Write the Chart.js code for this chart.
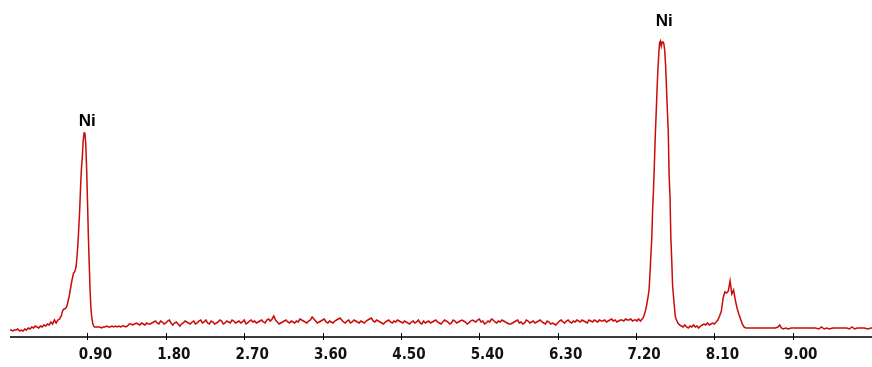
<!DOCTYPE html>
<html>
<head>
<meta charset="utf-8">
<script src="https://cdn.jsdelivr.net/npm/chart.js@4.4.1/dist/chart.umd.min.js"></script>
<style>
html,body{margin:0;padding:0;background:#fff;}
#wrap{width:872px;height:367px;position:relative;}
</style>
</head>
<body>
<div id="wrap"><canvas id="c" width="872" height="367"></canvas></div>
<script>
// Energy (keV) of each sampled channel
const energyKeV = [
0.00,0.02,0.04,0.06,0.08,0.10,0.12,0.14,0.16,0.18,0.20,0.22,0.24,0.26,0.28,0.30,0.32,0.34,0.36,0.38,0.40,0.42,0.44,0.46,0.48,0.50,0.52,0.54,0.56,
0.58,0.59,0.60,0.61,0.62,0.63,0.64,0.65,0.66,0.67,0.68,0.69,0.70,0.71,0.72,0.73,0.74,0.75,0.76,0.77,0.78,0.79,0.80,0.81,0.82,0.83,0.84,0.85,0.86,0.87,0.88,0.89,0.90,0.91,0.92,0.93,0.94,0.95,0.96,0.97,0.98,0.99,1.00,
1.02,1.04,1.06,1.08,1.10,1.12,1.14,1.16,1.18,1.20,1.22,1.24,1.26,1.28,1.30,1.32,1.34,1.36,1.38,1.40,1.42,1.44,1.46,1.48,1.50,1.52,1.54,1.56,1.58,1.60,
1.62,1.64,1.66,1.68,1.70,1.72,1.74,1.76,1.78,1.80,
1.82,1.84,1.86,1.88,1.90,1.92,1.94,1.96,1.98,2.00,
2.02,2.04,2.06,2.08,2.10,2.12,2.14,2.16,2.18,2.20,
2.22,2.24,2.26,2.28,2.30,2.32,2.34,2.36,2.38,2.40,
2.42,2.44,2.46,2.48,2.50,2.52,2.54,2.56,2.58,2.60,
2.62,2.64,2.66,2.68,2.70,2.72,2.74,2.76,2.78,2.80,
2.82,2.84,2.86,2.88,2.90,2.92,2.94,2.96,2.98,3.00,
3.02,3.04,3.06,3.08,3.10,3.12,3.14,3.16,3.18,3.20,
3.22,3.24,3.26,3.28,3.30,3.32,3.34,3.36,3.38,3.40,
3.42,3.44,3.46,3.48,3.50,3.52,3.54,3.56,3.58,3.60,
3.62,3.64,3.66,3.68,3.70,3.72,3.74,3.76,3.78,3.80,
3.82,3.84,3.86,3.88,3.90,3.92,3.94,3.96,3.98,4.00,
4.02,4.04,4.06,4.08,4.10,4.12,4.14,4.16,4.18,4.20,
4.22,4.24,4.26,4.28,4.30,4.32,4.34,4.36,4.38,4.40,
4.42,4.44,4.46,4.48,4.50,4.52,4.54,4.56,4.58,4.60,
4.62,4.64,4.66,4.68,4.70,4.72,4.74,4.76,4.78,4.80,
4.82,4.84,4.86,4.88,4.90,4.92,4.94,4.96,4.98,5.00,
5.02,5.04,5.06,5.08,5.10,5.12,5.14,5.16,5.18,5.20,
5.22,5.24,5.26,5.28,5.30,5.32,5.34,5.36,5.38,5.40,
5.42,5.44,5.46,5.48,5.50,5.52,5.54,5.56,5.58,5.60,
5.62,5.64,5.66,5.68,5.70,5.72,5.74,5.76,5.78,5.80,
5.82,5.84,5.86,5.88,5.90,5.92,5.94,5.96,5.98,6.00,
6.02,6.04,6.06,6.08,6.10,6.12,6.14,6.16,6.18,6.20,
6.22,6.24,6.26,6.28,6.30,6.32,6.34,6.36,6.38,6.40,
6.42,6.44,6.46,6.48,6.50,6.52,6.54,6.56,6.58,6.60,
6.62,6.64,6.66,6.68,6.70,6.72,6.74,6.76,6.78,6.80,
6.82,6.84,6.86,6.88,6.90,6.92,6.94,6.96,6.98,7.00,
7.02,7.04,7.06,7.08,7.10,7.12,7.14,7.16,7.18,
7.20,7.21,7.22,7.23,7.24,7.25,7.26,7.27,7.28,7.29,7.30,7.31,7.32,7.33,7.34,7.35,7.36,7.37,7.38,7.39,7.40,7.41,7.42,7.43,7.44,7.45,7.46,7.47,7.48,7.49,7.50,7.51,7.52,7.53,7.54,7.55,7.56,7.57,7.58,7.59,7.60,7.61,7.62,7.63,7.64,7.65,7.66,7.67,7.68,7.69,7.70,
7.72,7.74,7.76,7.78,7.80,7.82,7.84,7.86,7.88,7.90,7.92,7.94,7.96,7.98,8.00,8.02,8.04,8.06,8.08,8.10,
8.12,8.14,8.16,8.18,8.20,8.22,8.24,8.26,8.28,8.30,8.32,8.34,8.36,8.38,8.40,8.42,8.44,8.46,
8.48,8.52,8.56,8.60,8.64,8.68,8.72,8.76,8.80,8.83,8.85,8.87,8.89,8.92,8.95,8.98,9.02,9.06,9.10,9.14,9.18,9.22,9.26,9.30,9.33,9.36,9.39,9.42,9.46,9.50,9.54,9.58,9.62,9.65,9.68,9.71,9.74,9.78,9.82,9.86,9.90,9.94
];
// Counts (relative intensity)
const counts = [
6,6,5,6,6,7,5,6,5,7,6,8,7,9,8,10,9,8,10,9,11,10,12,11,14,12,16,13,16,
17,19,20,24,26,27,27,28,29,32,36,40,45,50,55,59,63,64,66,70,80,92,108,125,148,167,178,195,203,203,192,168,135,100,72,45,27,18,13,10,9,9,9,
9,9,8,9,9,10,9,9,10,9,10,9,10,9,10,10,9,10,12,12,11,12,13,12,11,13,12,11,13,12,
12,13,14,15,13,12,15,14,12,13,
15,16,13,11,13,14,12,10,12,13,
15,14,13,12,14,15,12,13,15,16,
13,14,16,13,12,15,14,12,13,14,
16,15,12,13,15,14,13,16,15,13,
14,15,13,14,16,12,13,15,16,14,
15,13,14,15,16,14,13,16,17,15,
17,20,16,14,12,13,14,15,16,14,
13,15,14,13,15,14,17,16,15,14,
13,15,16,19,17,15,13,14,15,16,
17,14,13,15,14,13,15,16,17,18,
16,14,13,15,16,13,14,16,15,14,
13,15,14,13,15,16,17,18,15,14,
16,15,14,13,12,14,15,16,14,13,
15,14,16,15,14,13,15,14,13,12,
14,15,13,14,16,13,12,15,13,14,
15,13,14,15,16,14,13,12,14,16,
15,14,12,13,16,15,13,14,15,16,
15,14,12,13,15,16,15,14,16,17,
14,15,12,13,15,14,17,16,14,13,
15,14,16,15,14,13,12,12,13,14,
15,16,13,14,12,13,16,15,13,14,
15,13,14,15,16,14,13,12,15,14,
12,13,12,11,13,15,16,14,13,15,
16,14,13,15,14,16,15,14,16,15,
14,13,16,15,14,16,15,14,16,15,
15,16,14,15,16,17,15,16,14,15,
16,16,15,17,16,16,17,15,16,
16,15,16,17,16,15,16,17,18,20,23,26,30,35,40,47,62,80,96,125,145,170,198,220,243,265,280,293,295,290,294,294,292,285,270,248,225,205,160,140,98,76,50,40,30,20,17,15,13,12,11,
10,9,11,9,8,10,9,11,9,10,8,10,11,12,11,13,11,12,13,12,
14,16,20,25,38,44,43,45,55,42,46,36,28,22,17,12,9,8,
8,8,8,8,8,8,8,8,8,9,11,8,7,8,7,8,8,8,8,8,8,8,8,7,9,7,8,7,8,8,8,8,8,7,9,7,8,8,8,7,8,8
];
const tickValues = [0.90, 1.80, 2.70, 3.60, 4.50, 5.40, 6.30, 7.20, 8.10, 9.00];
const peakLabels = ['Ni', 'Ni'];
const peakLabelEnergy = [0.898, 7.525];
const peakLabelCount = [214.5, 314.5];

const points = energyKeV.map((e, i) => ({x: e, y: counts[i]}));

// pick a narrow bold face for the tick labels if available
function hasFont(name) {
  const c = document.createElement('canvas').getContext('2d');
  c.font = 'bold 20px monospace';
  const a = c.measureText('0.90 1.80 Wmi').width;
  c.font = 'bold 20px "' + name + '", monospace';
  const b = c.measureText('0.90 1.80 Wmi').width;
  return Math.abs(a - b) > 0.5;
}
const narrow = hasFont('Liberation Sans Narrow');
const tickFont = narrow
  ? {family: '"Liberation Sans Narrow"', size: 19, weight: 'bold'}
  : {family: '"DejaVu Sans Condensed", "Liberation Sans"', size: 15, weight: 'bold'};

const overlay = {
  id: 'overlay',
  afterDraw(chart) {
    const ctx = chart.ctx;
    const xs = chart.scales.x, ys = chart.scales.y;
    const area = chart.chartArea;
    ctx.save();
    ctx.fillStyle = '#3c3c3c';
    ctx.fillRect(area.left, 336, area.right - area.left, 2);
    ctx.fillStyle = '#000';
    tickValues.forEach(v => {
      const px = Math.round(xs.getPixelForValue(v));
      ctx.fillRect(px, 333, 1, 7);
    });
    ctx.font = 'bold 17px "Liberation Sans", Arial, sans-serif';
    ctx.textAlign = 'center';
    ctx.textBaseline = 'middle';
    ctx.fillStyle = '#000';
    peakLabels.forEach((t, i) => {
      ctx.fillText(t, xs.getPixelForValue(peakLabelEnergy[i]), ys.getPixelForValue(peakLabelCount[i]));
    });
    ctx.restore();
  }
};

new Chart(document.getElementById('c'), {
  type: 'line',
  data: {
    datasets: [{
      data: points,
      borderColor: '#cc0a0a',
      borderWidth: 1.5,
      borderDash: [4000, 0],
      pointRadius: 0,
      tension: 0,
      fill: false
    }]
  },
  options: {
    responsive: false,
    animation: false,
    devicePixelRatio: 1,
    layout: {padding: {left: 10, right: 0, top: 0, bottom: 0}},
    plugins: {legend: {display: false}, tooltip: {enabled: false}},
    scales: {
      x: {
        type: 'linear',
        min: 0.01,
        max: 9.91,
        afterBuildTicks: (s) => { s.ticks = tickValues.map(v => ({value: v})); },
        afterFit: (s) => { s.height = 31; },
        grid: {display: false, drawTicks: false},
        border: {display: false},
        ticks: {
          autoSkip: false,
          maxRotation: 0,
          padding: 10,
          labelOffset: 8,
          color: '#111',
          font: tickFont,
          callback: (v) => Number(v).toFixed(2)
        }
      },
      y: {
        display: false,
        min: 0,
        max: 336
      }
    }
  },
  plugins: [overlay]
});
</script>
</body>
</html>
